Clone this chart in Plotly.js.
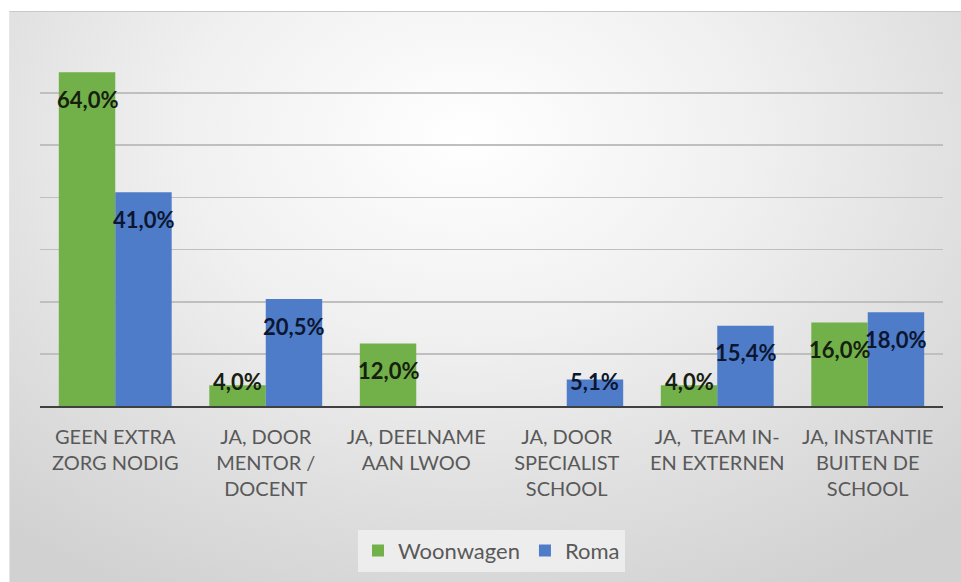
<!DOCTYPE html>
<html>
<head>
<meta charset="utf-8">
<script src="https://cdn.plot.ly/plotly-3.0.1.min.js"></script>
<style>
  html, body { margin:0; padding:0; background:#ffffff; }
  #frame { position:absolute; left:9px; top:11px; width:952px; height:571px;
    background: radial-gradient(ellipse 75% 90% at 48% 22%, #ffffff 0%, #f0f0f0 40%, #e0e0e0 70%, #d1d1d1 100%);
    border-top:1px solid #c9c9c9; border-left:1px solid #e6e6e6; box-sizing:border-box; }
  #chart { position:absolute; left:0; top:0; width:961px; height:582px; }
</style>
</head>
<body>
<div id="frame"></div>
<div id="chart"></div>
<script>
const categories = [
  "GEEN EXTRA<br>ZORG NODIG",
  "JA, DOOR<br>MENTOR /<br>DOCENT",
  "JA, DEELNAME<br>AAN LWOO",
  "JA, DOOR<br>SPECIALIST<br>SCHOOL",
  "JA,  TEAM IN-<br>EN EXTERNEN",
  "JA, INSTANTIE<br>BUITEN DE<br>SCHOOL"
];
const woonwagen = [64.0, 4.0, 12.0, 0, 4.0, 16.0];
const roma = [41.0, 20.5, 0, 5.1, 15.4, 18.0];
const seriesNames = ["Woonwagen", "Roma"];
const colors = ["#72b04a", "#4f7cc9"];
const labelColors = ["#16200f", "#0c1630"];

const W = 961, H = 582;
const margin = {l:40, r:18, t:41, b:175};
const yMax = 70;
const bargap = 0.25;
const plotW = W - margin.l - margin.r;
const plotH = H - margin.t - margin.b;
const catW = plotW / categories.length;
const barW = (1 - bargap) * catW / 2;
const pxPer = plotH / yMax;
const FONT = 'Lato, "Open Sans", sans-serif';

function fmt(v){ return v.toFixed(1).replace('.', ',') + '%'; }

const annotations = [];
[woonwagen, roma].forEach((vals, s) => {
  vals.forEach((v, i) => {
    if (v <= 0) return;
    const h = v * pxPer;
    annotations.push({
      x: categories[i], y: v, xref:'x', yref:'y',
      text: '<b>' + fmt(v) + '</b>', showarrow:false,
      xshift: (s === 0 ? -1 : 1) * barW / 2,
      yshift: -Math.min(27, h - 25),
      yanchor:'middle', xanchor:'center',
      font:{family:FONT, size:22, color:labelColors[s]}
    });
  });
});

const data = [woonwagen, roma].map((vals, s) => ({
  type:'bar', x:categories, y:vals, name:seriesNames[s],
  marker:{color:colors[s], line:{width:0}}
}));

const layout = {
  width:W, height:H, margin:margin,
  paper_bgcolor:'rgba(0,0,0,0)', plot_bgcolor:'rgba(0,0,0,0)',
  barmode:'group', bargap:bargap, bargroupgap:0,
  showlegend:true,
  legend:{orientation:'h', x:0.5, xanchor:'center', y:-0.335, yanchor:'top',
    bgcolor:'rgba(240,240,240,0.85)', font:{family:FONT, size:22, color:'#595959'},
    itemwidth:30, traceorder:'normal'},
  xaxis:{type:'category', showgrid:false, showline:true, linecolor:'#404040', linewidth:2,
    tickfont:{family:FONT, size:20, color:'#595959'},
    ticks:'', ticklabelstandoff:12, fixedrange:true, tickangle:0},
  yaxis:{range:[0, yMax], dtick:10, showticklabels:false, showgrid:true,
    gridcolor:'#bfbfbf', gridwidth:1.6, zeroline:false, showline:false, ticks:'', fixedrange:true},
  annotations:annotations
};

Plotly.newPlot('chart', data, layout, {displayModeBar:false, staticPlot:true});
</script>
</body>
</html>
